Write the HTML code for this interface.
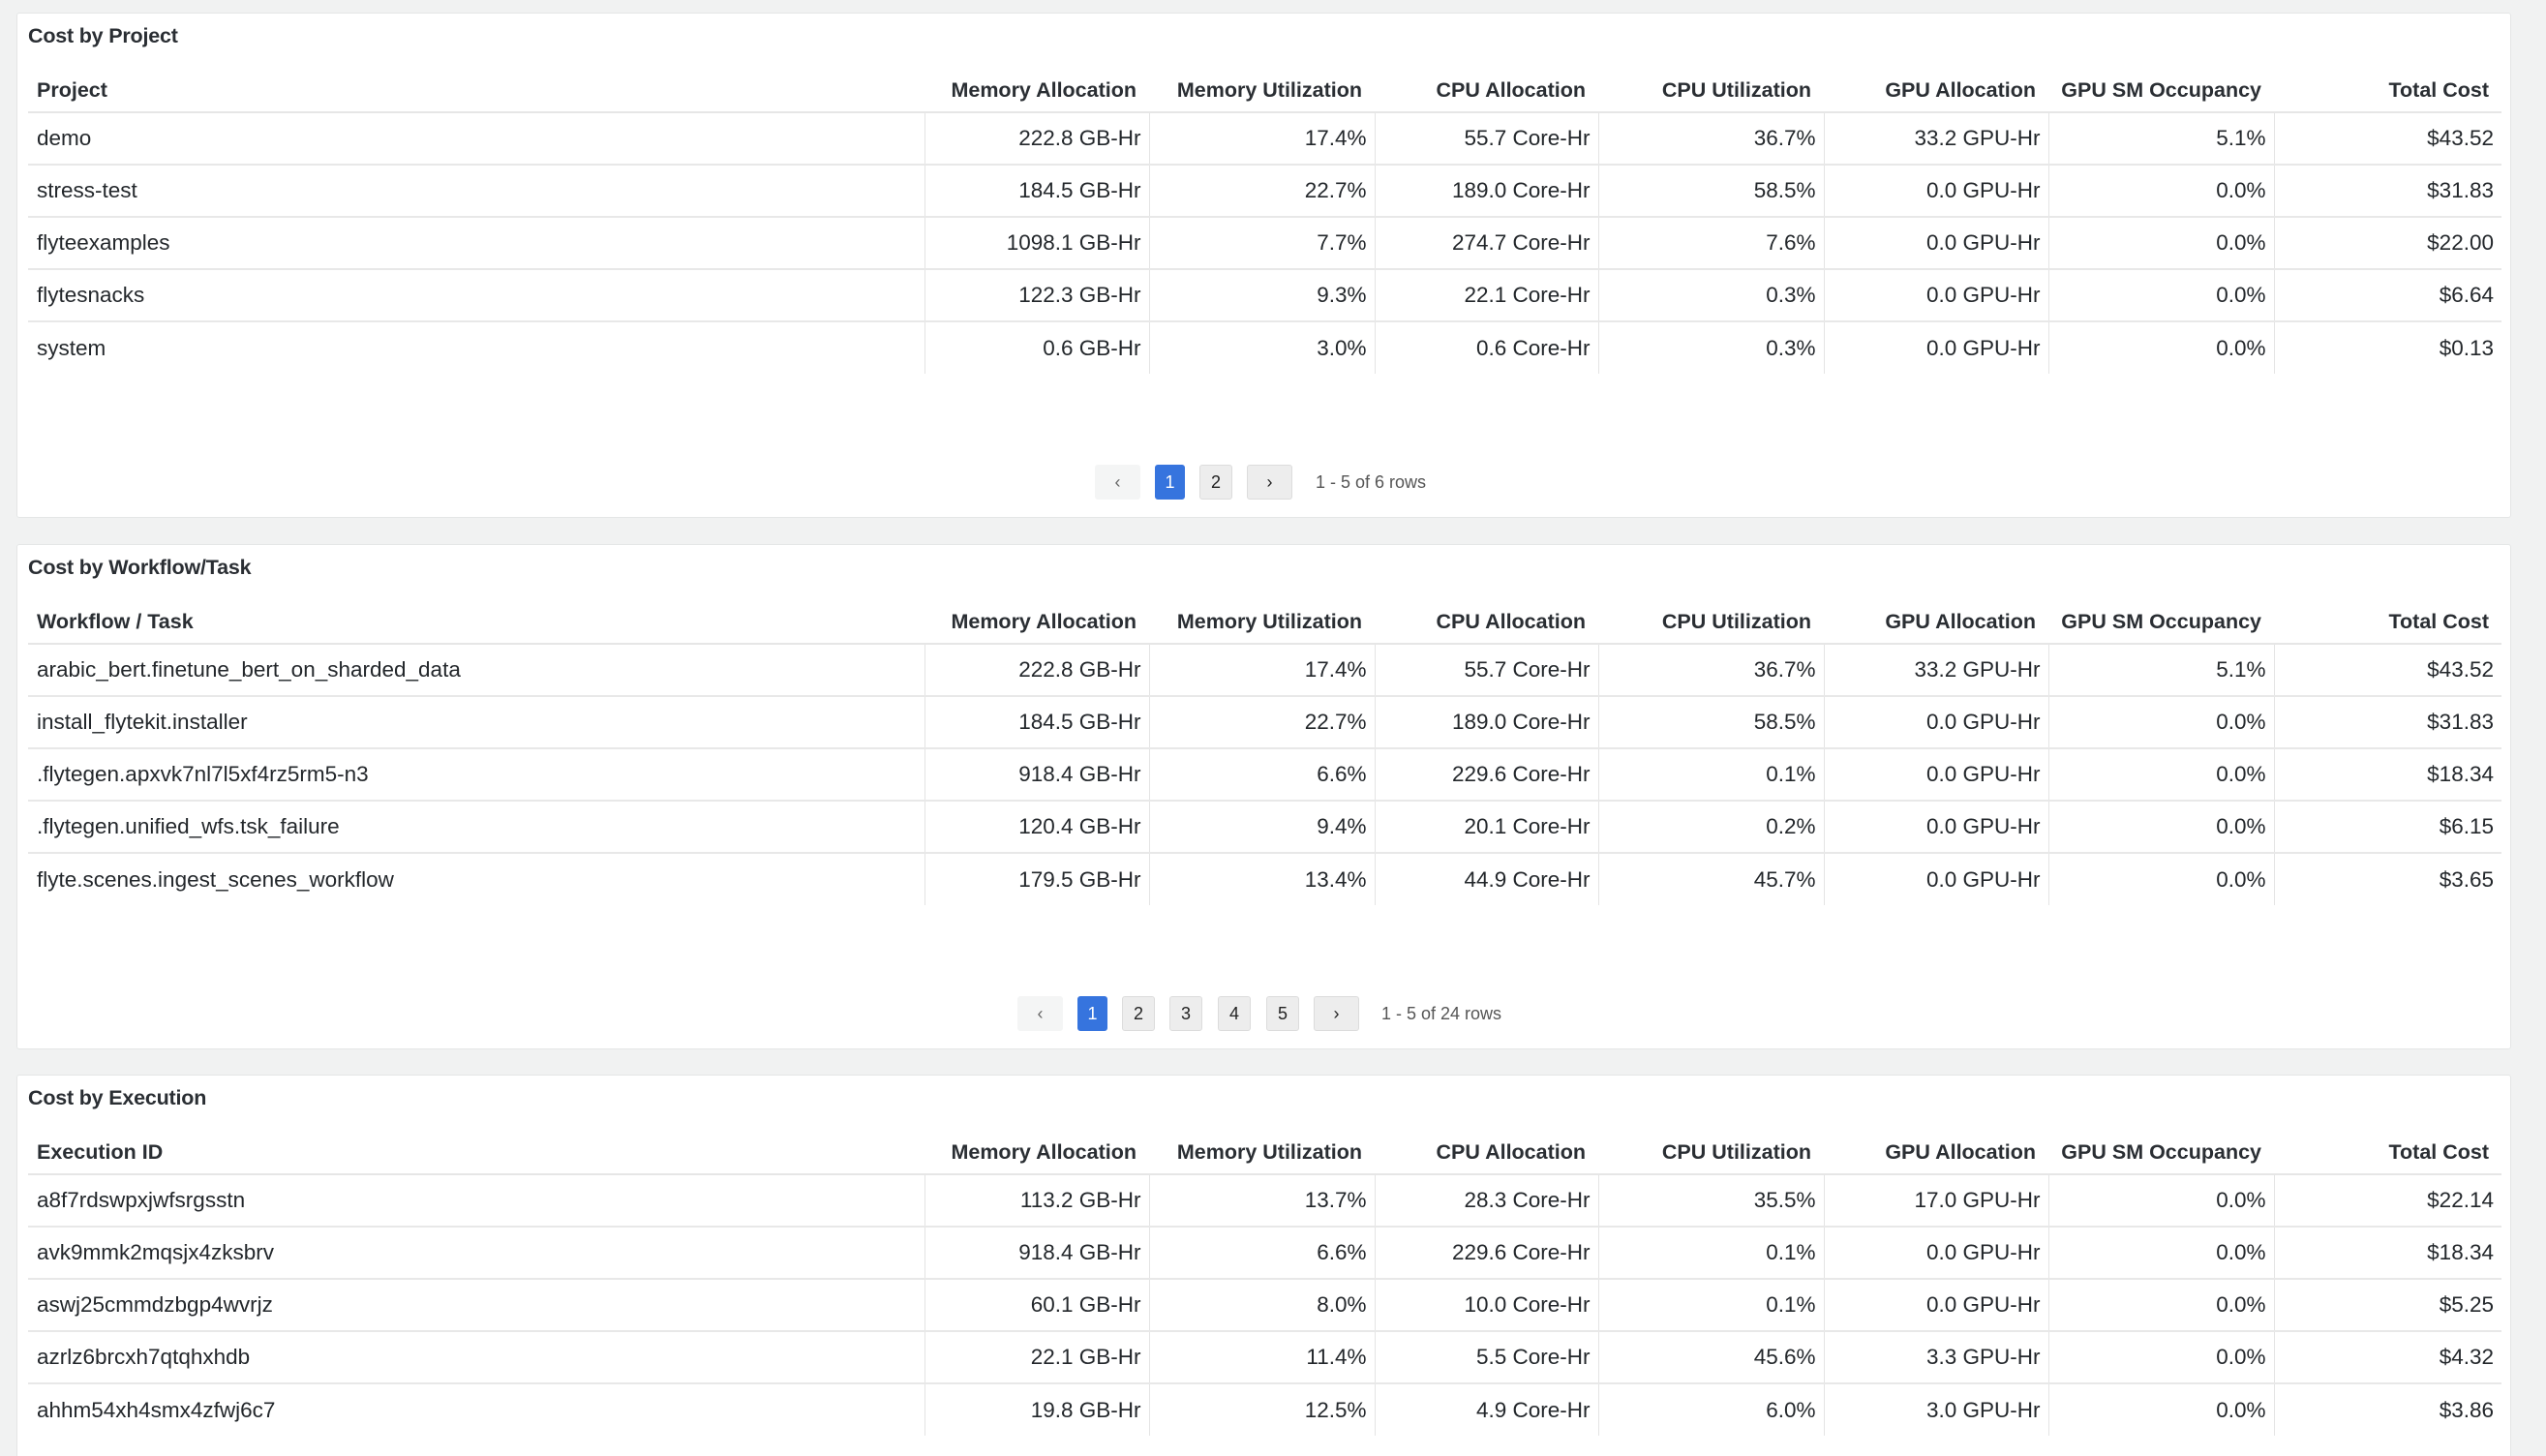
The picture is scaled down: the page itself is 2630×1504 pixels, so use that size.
<!DOCTYPE html>
<html style="width:2630px;height:1504px;overflow:hidden"><head><meta charset="utf-8"><style>
*{box-sizing:border-box;margin:0;padding:0}
body{width:2630px;height:1504px;background:#f1f2f2;font-family:"Liberation Sans",sans-serif;color:#23272b;position:relative;overflow:hidden}
.panel{position:absolute;left:17px;width:2577px;height:522px;background:#fff;border:1px solid #e4e6e6;border-radius:3px;overflow:hidden}
.title{position:absolute;left:11px;top:11px;font-size:21.5px;font-weight:bold;color:#2a2e33;letter-spacing:-0.2px}
table{position:absolute;left:11px;top:58px;width:2555px;border-collapse:collapse;table-layout:fixed;font-size:22.5px}
th{height:44px;font-weight:bold;text-align:right;padding:0 13px 0 0;border-bottom:2px solid #e6e6e6;white-space:nowrap;vertical-align:middle;color:#2a2e33;font-size:21.5px}
th.f{text-align:left;padding-left:9px}
td{height:54px;text-align:right;padding:0 8px 0 0;border-bottom:2px solid #e8e8e8;border-left:1px solid #e4e4e4;white-space:nowrap}
td.f{text-align:left;padding-left:9px;border-left:none}
tr:last-child td{border-bottom:none}
.pg{position:absolute;top:466px;height:36px;font-size:18px}
.b{position:absolute;top:0;height:36px;border-radius:3px;border:1px solid #dcdcdc;background:#ededed;text-align:center;line-height:34px;color:#222}
.b.a{background:#3674de;border-color:#3674de;color:#fff}
.b.p{background:#f4f5f5;border-color:#f4f5f5;color:#666}
.t{position:absolute;top:0;line-height:36px;color:#555;white-space:nowrap}
</style></head><body>

<div class="panel" style="top:13px">
<div class="title">Cost by Project</div>
<table>
<colgroup><col style="width:926px"><col style="width:232px"><col style="width:233px"><col style="width:231px"><col style="width:233px"><col style="width:232px"><col style="width:233px"><col style="width:235px"></colgroup>
<tr><th class="f">Project</th><th>Memory Allocation</th><th>Memory Utilization</th><th>CPU Allocation</th><th>CPU Utilization</th><th>GPU Allocation</th><th>GPU SM Occupancy</th><th>Total Cost</th></tr>
<tr><td class="f">demo</td><td>222.8 GB-Hr</td><td>17.4%</td><td>55.7 Core-Hr</td><td>36.7%</td><td>33.2 GPU-Hr</td><td>5.1%</td><td>$43.52</td></tr>
<tr><td class="f">stress-test</td><td>184.5 GB-Hr</td><td>22.7%</td><td>189.0 Core-Hr</td><td>58.5%</td><td>0.0 GPU-Hr</td><td>0.0%</td><td>$31.83</td></tr>
<tr><td class="f">flyteexamples</td><td>1098.1 GB-Hr</td><td>7.7%</td><td>274.7 Core-Hr</td><td>7.6%</td><td>0.0 GPU-Hr</td><td>0.0%</td><td>$22.00</td></tr>
<tr><td class="f">flytesnacks</td><td>122.3 GB-Hr</td><td>9.3%</td><td>22.1 Core-Hr</td><td>0.3%</td><td>0.0 GPU-Hr</td><td>0.0%</td><td>$6.64</td></tr>
<tr><td class="f">system</td><td>0.6 GB-Hr</td><td>3.0%</td><td>0.6 Core-Hr</td><td>0.3%</td><td>0.0 GPU-Hr</td><td>0.0%</td><td>$0.13</td></tr>
</table>
<div class="pg" style="left:0">
<div class="b p" style="left:1113px;width:47px">‹</div>
<div class="b a" style="left:1175px;width:31px">1</div>
<div class="b" style="left:1221px;width:34px">2</div>
<div class="b" style="left:1270px;width:47px">›</div>
<div class="t" style="left:1341px">1 - 5 of 6 rows</div>
</div>
</div>

<div class="panel" style="top:562px">
<div class="title">Cost by Workflow/Task</div>
<table>
<colgroup><col style="width:926px"><col style="width:232px"><col style="width:233px"><col style="width:231px"><col style="width:233px"><col style="width:232px"><col style="width:233px"><col style="width:235px"></colgroup>
<tr><th class="f">Workflow / Task</th><th>Memory Allocation</th><th>Memory Utilization</th><th>CPU Allocation</th><th>CPU Utilization</th><th>GPU Allocation</th><th>GPU SM Occupancy</th><th>Total Cost</th></tr>
<tr><td class="f">arabic_bert.finetune_bert_on_sharded_data</td><td>222.8 GB-Hr</td><td>17.4%</td><td>55.7 Core-Hr</td><td>36.7%</td><td>33.2 GPU-Hr</td><td>5.1%</td><td>$43.52</td></tr>
<tr><td class="f">install_flytekit.installer</td><td>184.5 GB-Hr</td><td>22.7%</td><td>189.0 Core-Hr</td><td>58.5%</td><td>0.0 GPU-Hr</td><td>0.0%</td><td>$31.83</td></tr>
<tr><td class="f">.flytegen.apxvk7nl7l5xf4rz5rm5-n3</td><td>918.4 GB-Hr</td><td>6.6%</td><td>229.6 Core-Hr</td><td>0.1%</td><td>0.0 GPU-Hr</td><td>0.0%</td><td>$18.34</td></tr>
<tr><td class="f">.flytegen.unified_wfs.tsk_failure</td><td>120.4 GB-Hr</td><td>9.4%</td><td>20.1 Core-Hr</td><td>0.2%</td><td>0.0 GPU-Hr</td><td>0.0%</td><td>$6.15</td></tr>
<tr><td class="f">flyte.scenes.ingest_scenes_workflow</td><td>179.5 GB-Hr</td><td>13.4%</td><td>44.9 Core-Hr</td><td>45.7%</td><td>0.0 GPU-Hr</td><td>0.0%</td><td>$3.65</td></tr>
</table>
<div class="pg" style="left:0">
<div class="b p" style="left:1033px;width:47px">‹</div>
<div class="b a" style="left:1095px;width:31px">1</div>
<div class="b" style="left:1141px;width:34px">2</div>
<div class="b" style="left:1190px;width:34px">3</div>
<div class="b" style="left:1240px;width:34px">4</div>
<div class="b" style="left:1290px;width:34px">5</div>
<div class="b" style="left:1339px;width:47px">›</div>
<div class="t" style="left:1409px">1 - 5 of 24 rows</div>
</div>
</div>

<div class="panel" style="top:1110px;height:420px">
<div class="title">Cost by Execution</div>
<table>
<colgroup><col style="width:926px"><col style="width:232px"><col style="width:233px"><col style="width:231px"><col style="width:233px"><col style="width:232px"><col style="width:233px"><col style="width:235px"></colgroup>
<tr><th class="f">Execution ID</th><th>Memory Allocation</th><th>Memory Utilization</th><th>CPU Allocation</th><th>CPU Utilization</th><th>GPU Allocation</th><th>GPU SM Occupancy</th><th>Total Cost</th></tr>
<tr><td class="f">a8f7rdswpxjwfsrgsstn</td><td>113.2 GB-Hr</td><td>13.7%</td><td>28.3 Core-Hr</td><td>35.5%</td><td>17.0 GPU-Hr</td><td>0.0%</td><td>$22.14</td></tr>
<tr><td class="f">avk9mmk2mqsjx4zksbrv</td><td>918.4 GB-Hr</td><td>6.6%</td><td>229.6 Core-Hr</td><td>0.1%</td><td>0.0 GPU-Hr</td><td>0.0%</td><td>$18.34</td></tr>
<tr><td class="f">aswj25cmmdzbgp4wvrjz</td><td>60.1 GB-Hr</td><td>8.0%</td><td>10.0 Core-Hr</td><td>0.1%</td><td>0.0 GPU-Hr</td><td>0.0%</td><td>$5.25</td></tr>
<tr><td class="f">azrlz6brcxh7qtqhxhdb</td><td>22.1 GB-Hr</td><td>11.4%</td><td>5.5 Core-Hr</td><td>45.6%</td><td>3.3 GPU-Hr</td><td>0.0%</td><td>$4.32</td></tr>
<tr><td class="f">ahhm54xh4smx4zfwj6c7</td><td>19.8 GB-Hr</td><td>12.5%</td><td>4.9 Core-Hr</td><td>6.0%</td><td>3.0 GPU-Hr</td><td>0.0%</td><td>$3.86</td></tr>
</table>
</div>

</body></html>
